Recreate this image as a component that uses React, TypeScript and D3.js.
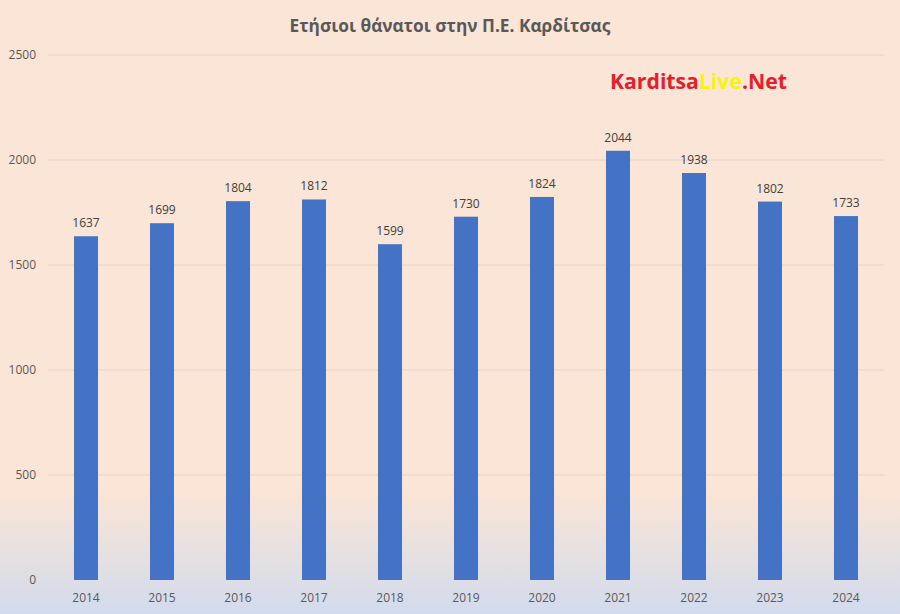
import React from "react";
import * as d3 from "d3";

const years = ["2014","2015","2016","2017","2018","2019","2020","2021","2022","2023","2024"];
const deaths = [1637,1699,1804,1812,1599,1730,1824,2044,1938,1802,1733];
const yTicks = [0,500,1000,1500,2000,2500];
const title = "Ετήσιοι θάνατοι στην Π.Ε. Καρδίτσας";

export default function App() {
  const W = 900, H = 614;
  const x = d3.scaleBand<string>().domain(years).range([48, 884]).paddingInner(0.684).paddingOuter(0.342);
  const y = d3.scaleLinear().domain([0, 2500]).range([580, 55]);
  const font = "'Open Sans', 'Liberation Sans', sans-serif";
  return (
    <svg width={W} height={H} style={{ position: "absolute", left: 0, top: 0 }}>
      <defs>
        <linearGradient id="bg" x1="0" y1="0" x2="0" y2="1">
          <stop offset="0" stopColor="#fbe5d6" />
          <stop offset="0.8" stopColor="#fbe5d6" />
          <stop offset="1" stopColor="#d2dbed" />
        </linearGradient>
      </defs>
      <rect x={0} y={0} width={W} height={H} fill="url(#bg)" />
      <text x={450} y={32} textAnchor="middle" fontFamily={font} fontWeight="bold" fontSize={17.3} fill="#595959">{title}</text>
      {yTicks.map(t => (
        <g key={t}>
          {t > 0 && <line x1={48} x2={884} y1={y(t)} y2={y(t)} stroke="#e6d3c6" strokeWidth={1} />}
          <text x={36} y={y(t) + 4} textAnchor="end" fontFamily={font} fontSize={12} fill="#595959">{t}</text>
        </g>
      ))}
      {years.map((yr, i) => (
        <g key={yr}>
          <rect x={x(yr)} y={y(deaths[i])} width={x.bandwidth()} height={580 - y(deaths[i])} fill="#4472c4" />
          <text x={(x(yr) as number) + x.bandwidth() / 2} y={y(deaths[i]) - 9} textAnchor="middle" fontFamily={font} fontSize={12} fill="#404040">{deaths[i]}</text>
          <text x={(x(yr) as number) + x.bandwidth() / 2} y={602} textAnchor="middle" fontFamily={font} fontSize={12} fill="#595959">{yr}</text>
        </g>
      ))}
      <text x={610} y={89} fontFamily={font} fontWeight="bold" fontSize={21.2} fill="#e3202b">
        Karditsa<tspan fill="#f6f40a">Live</tspan>.Net
      </text>
    </svg>
  );
}
